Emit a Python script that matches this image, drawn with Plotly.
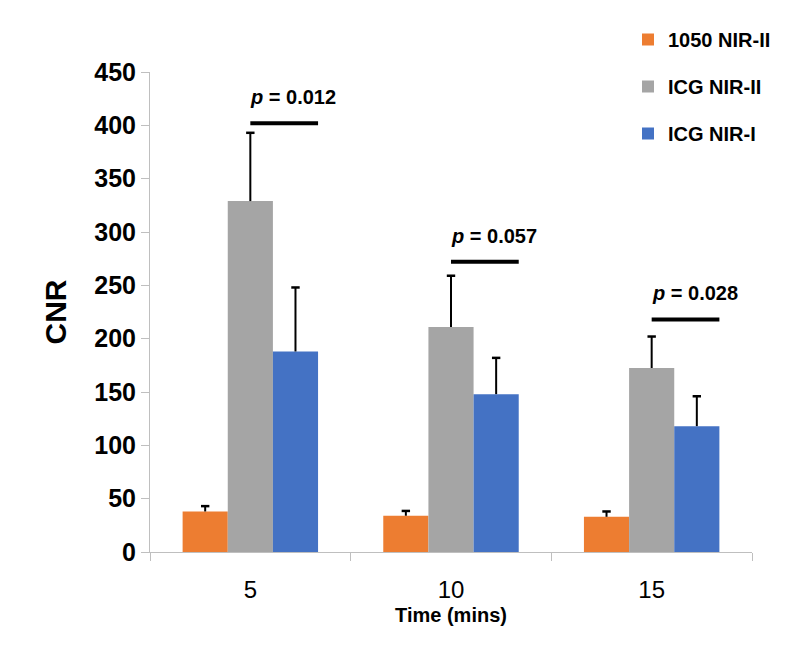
import plotly.graph_objects as go

categories = ["5", "10", "15"]
series_names = ["1050 NIR-II", "ICG NIR-II", "ICG NIR-I"]
values_1050_nir2 = [38, 34, 33]
errors_1050_nir2 = [5, 4.5, 5]
values_icg_nir2 = [329, 211, 172.5]
errors_icg_nir2 = [64, 48, 29.5]
values_icg_nir1 = [188, 148, 118]
errors_icg_nir1 = [60, 34, 28]
p_labels = ["0.012", "0.057", "0.028"]
p_line_y = [402, 272, 218]
y_ticks = [0, 50, 100, 150, 200, 250, 300, 350, 400, 450]

colors = ["#ED7D31", "#A5A5A5", "#4472C4"]
FONT = "Arial, Liberation Sans, Helvetica, sans-serif"

# page has an 8px body margin, so the figure is drawn from (8, 8)
W, H = 792, 639
L, R, T, B = 142, 48, 64, 95
PW, PH = W - L - R, H - T - B

fig = go.Figure()
for name, vals, errs, col in zip(series_names,
                                 [values_1050_nir2, values_icg_nir2, values_icg_nir1],
                                 [errors_1050_nir2, errors_icg_nir2, errors_icg_nir1],
                                 colors):
    fig.add_trace(go.Bar(
        x=categories, y=vals, name=name, legendgroup=name, offsetgroup=name,
        marker=dict(color=col, line=dict(width=0)),
        error_y=dict(type="data", array=errs, symmetric=False, arrayminus=[0]*len(errs),
                     color="black", thickness=2, width=0),
    ))
# error bar caps (top only)
for name, vals, errs in zip(series_names,
                            [values_1050_nir2, values_icg_nir2, values_icg_nir1],
                            [errors_1050_nir2, errors_icg_nir2, errors_icg_nir1]):
    fig.add_trace(go.Scatter(
        x=categories, y=[v + e for v, e in zip(vals, errs)], mode="markers",
        offsetgroup=name, showlegend=False, hoverinfo="skip",
        marker=dict(symbol="line-ew", size=6, line=dict(color="black", width=2.5)),
    ))

n_series = 3
bargap = 0.325
bar_w = (1 - bargap) / n_series
for i, (lbl, ly) in enumerate(zip(p_labels, p_line_y)):
    x0 = i  # centre of middle (grey) bar
    x1 = i + 1.5 * bar_w  # right edge of blue bar
    fig.add_shape(type="line", xref="x", yref="y", x0=x0, x1=x1, y0=ly, y1=ly,
                  line=dict(color="black", width=4))
    fig.add_annotation(x=x0, y=ly, xref="x", yref="y", text=f"<i>p</i> = {lbl}",
                       showarrow=False, xanchor="left", yanchor="middle", yshift=26,
                       xshift=-2,
                       font=dict(family=FONT, size=20, color="black", weight="bold"))

fig.update_layout(
    width=W, height=H,
    margin=dict(l=L, r=R, t=T, b=B, autoexpand=False),
    paper_bgcolor="white", plot_bgcolor="white",
    barmode="group", bargap=bargap, bargroupgap=0,
    scattermode="group", scattergap=bargap,
    font=dict(family=FONT, color="black"),
    showlegend=True,
    legend=dict(x=(620 - L) / PW, y=1 + (T - 12) / PH,
                xanchor="left", yanchor="top", tracegroupgap=18,
                font=dict(family=FONT, size=20, color="black", weight="bold"),
                bgcolor="rgba(0,0,0,0)"),
    xaxis=dict(type="category", showline=True, linecolor="#bfbfbf", linewidth=1,
               ticks="outside", tickson="boundaries", ticklen=8, tickcolor="#bfbfbf",
               tickfont=dict(family=FONT, size=24, color="black"), ticklabelstandoff=16,
               title=dict(text="Time (mins)", standoff=6,
                          font=dict(family=FONT, size=20, color="black", weight="bold")),
               showgrid=False, range=[-0.5, 2.5], automargin=False),
    yaxis=dict(range=[0, 450], tickvals=y_ticks, showline=True, linecolor="#bfbfbf",
               linewidth=1, ticks="outside", ticklen=8, tickcolor="#bfbfbf",
               tickfont=dict(family=FONT, size=25, color="black", weight="bold"),
               title=dict(text="CNR", standoff=18,
                          font=dict(family=FONT, size=30, color="black", weight="bold")),
               showgrid=False, zeroline=False, automargin=False),
)

fig.write_html("out.html")
